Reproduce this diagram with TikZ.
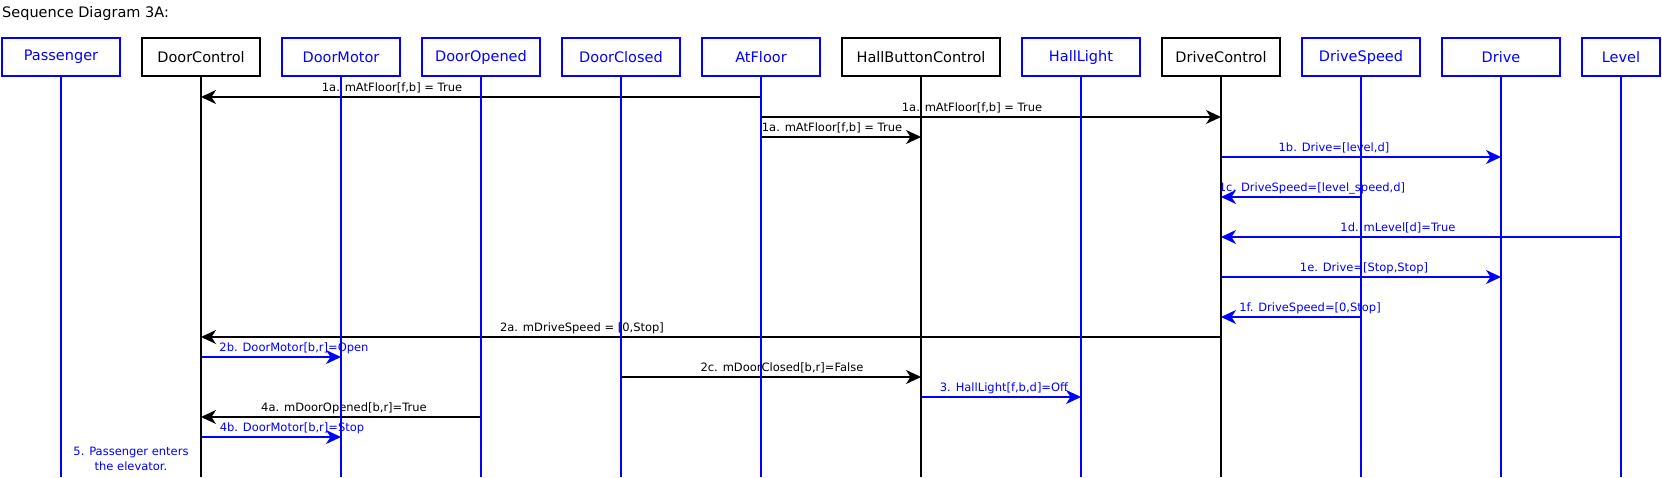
\documentclass[tikz,border=0pt]{standalone}
\usepackage{fontspec}
\setmainfont{DejaVu Sans}
\usetikzlibrary{arrows.meta}

\tikzset{
  part/.style={draw,fill=white,line width=1.7pt,minimum height=38pt,inner sep=0pt,
    font=\fontsize{14.5}{17}\selectfont},
  life/.style={line width=1.7pt},
  msg/.style={line width=1.5pt,-{Stealth[length=15pt,width=14pt,inset=4.5pt]}},
  lbl/.style={inner sep=0pt,font=\fontsize{11.5}{15}\selectfont}
}

\begin{document}
\begin{tikzpicture}[x=1pt,y=-1pt]
  \useasboundingbox (0,0) rectangle (1662,477);
  \node[anchor=base west,inner sep=0pt,font=\fontsize{14.5}{17}\selectfont] (title) at (2,17) {Sequence Diagram 3A:};

  % participants
  \foreach \n/\x/\w/\c/\t in {pass/61/118/blue/Passenger, dctl/201/118/black/DoorControl,
      dmot/341/118/blue/DoorMotor, dopn/481/118/blue/DoorOpened, dcls/621/118/blue/DoorClosed,
      atf/761/118/blue/AtFloor, hbc/921/158/black/HallButtonControl, hlt/1081/118/blue/HallLight,
      drvc/1221/118/black/DriveControl, dspd/1361/118/blue/DriveSpeed, drv/1501/118/blue/Drive,
      lvl/1621/78/blue/Level}
  {
    \node[part,draw=\c,text=\c,minimum width=\w pt] (\n) at (\x,57) {\t};
    \coordinate (\n-end) at (\x,477);
  }

  % messages
  \foreach \i/\a/\b/\y/\c/\lx/\t in {
      1/atf/dctl/97/black/392/{1a. mAtFloor[f,b] = True},
      2/atf/drvc/117/black/972/{1a. mAtFloor[f,b] = True},
      3/atf/hbc/137/black/832/{1a. mAtFloor[f,b] = True},
      4/drvc/drv/157/blue/1334/{1b. Drive=[level,d]},
      5/dspd/drvc/197/blue/1312/{1c. DriveSpeed=[level\_speed,d]},
      6/lvl/drvc/237/blue/1398/{1d. mLevel[d]=True},
      7/drvc/drv/277/blue/1364/{1e. Drive=[Stop,Stop]},
      8/dspd/drvc/317/blue/1310/{1f. DriveSpeed=[0,Stop]},
      9/drvc/dctl/337/black/582/{2a. mDriveSpeed = [0,Stop]},
      10/dctl/dmot/357/blue/294/{2b. DoorMotor[b,r]=Open},
      11/dcls/hbc/377/black/782/{2c. mDoorClosed[b,r]=False},
      12/hbc/hlt/397/blue/1004/{3. HallLight[f,b,d]=Off},
      13/dopn/dctl/417/black/344/{4a. mDoorOpened[b,r]=True},
      14/dctl/dmot/437/blue/292/{4b. DoorMotor[b,r]=Stop}}
  {
    \draw[msg,draw=\c,fill=\c] (\a |- 0,\y) -- (\b |- 0,\y);
    \node[lbl,text=\c,anchor=base] (m\i) at (\lx,\y-6) {\t};
  }

  % lifelines on top
  \foreach \n/\c in {pass/blue, dctl/black, dmot/blue, dopn/blue, dcls/blue, atf/blue,
      hbc/black, hlt/blue, drvc/black, dspd/blue, drv/blue, lvl/blue}
    \draw[life,\c] (\n.south) -- (\n-end);

  \node[lbl,text=blue,align=center] (note) at (131,459) {5. Passenger enters\\the elevator.};
\end{tikzpicture}
\end{document}
